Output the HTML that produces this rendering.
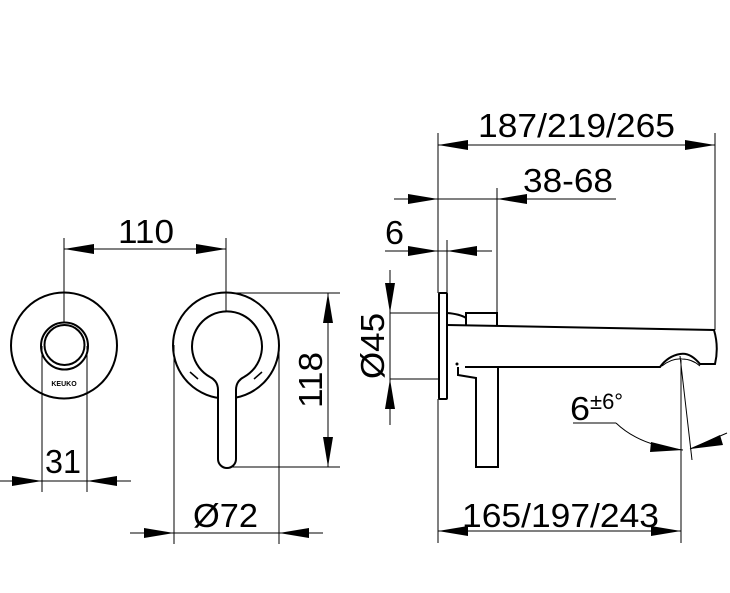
<!DOCTYPE html>
<html><head><style>body{margin:0;background:#fff}svg{display:block}text{font-family:"Liberation Sans",sans-serif;fill:#000}</style></head><body>
<svg width="730" height="593" viewBox="0 0 730 593" xmlns="http://www.w3.org/2000/svg">
<defs></defs>
<g stroke="#000" stroke-width="1" fill="none">
<!-- 110 -->
<line x1="64" y1="238" x2="64" y2="322"/><line x1="226" y1="238" x2="226" y2="313"/>
<line x1="64" y1="249" x2="226" y2="249"/>
<!-- 31 -->
<line x1="42" y1="346" x2="42" y2="492"/><line x1="87" y1="346" x2="87" y2="492"/>
<line x1="0" y1="481" x2="131" y2="481"/>
<!-- 118 -->
<line x1="226" y1="293" x2="340" y2="293"/><line x1="226" y1="467" x2="340" y2="467"/>
<line x1="328" y1="293" x2="328" y2="467"/>
<!-- Ø72 -->
<line x1="174" y1="345" x2="174" y2="544"/><line x1="279" y1="345" x2="279" y2="544"/>
<line x1="130" y1="533" x2="323" y2="533"/>
<!-- right dims -->
<line x1="438" y1="133" x2="438" y2="293"/><line x1="438" y1="399" x2="438" y2="543"/>
<line x1="715" y1="133" x2="715" y2="330"/>
<line x1="438" y1="145" x2="715" y2="145"/>
<line x1="497" y1="188" x2="497" y2="313"/>
<line x1="394" y1="199" x2="616" y2="199"/>
<line x1="447" y1="240" x2="447" y2="293"/>
<line x1="385" y1="251" x2="492" y2="251"/>
<line x1="390" y1="270" x2="390" y2="425"/>
<line x1="390" y1="313" x2="440" y2="313"/><line x1="390" y1="379" x2="440" y2="379"/>
<line x1="681" y1="360" x2="681" y2="543"/>
<line x1="438" y1="531" x2="681" y2="531"/>
<line x1="680" y1="356" x2="692" y2="460"/>
<line x1="573" y1="423" x2="616" y2="423"/>
<path d="M616,423 Q640,446 683,450"/>
<line x1="690" y1="449" x2="727" y2="433"/>
</g>
<g fill="#000">
<!-- arrows -->
<polygon points="64,249 94,244 94,254"/><polygon points="226,249 196,244 196,254"/>
<polygon points="42,481 12,476 12,486"/><polygon points="87,481 117,476 117,486"/>
<polygon points="328,293 323,323 333,323"/><polygon points="328,467 323,437 333,437"/>
<polygon points="174,533 144,528 144,538"/><polygon points="279,533 309,528 309,538"/>
<polygon points="438,145 468,140 468,150"/><polygon points="715,145 685,140 685,150"/>
<polygon points="438,199 408,194 408,204"/><polygon points="497,199 527,194 527,204"/>
<polygon points="438,251 408,246 408,256"/><polygon points="447,251 477,246 477,256"/>
<polygon points="390,313 385,283 395,283"/><polygon points="390,379 385,409 395,409"/>
<polygon points="438,531 468,526 468,536"/><polygon points="681,531 651,526 651,536"/>
<polygon points="683,450 651,442 650,452"/><polygon points="690,449 720,435 723,445"/>
</g>
<g stroke="#000" stroke-width="2" fill="none">
<circle cx="64" cy="345.5" r="53"/>
<circle cx="64.5" cy="346" r="23.5"/><circle cx="64.5" cy="345" r="20"/>
<circle cx="226" cy="345.5" r="53"/>
<path d="M218,459 L218,390 Q218,381 210,377 A35,35 0 1 1 244,377 Q236,381 236,390 L236,459 A9,9 0 0 1 218,459 Z" fill="#fff"/>
<line x1="190" y1="372" x2="198" y2="379" stroke-width="1.5"/><line x1="262" y1="372" x2="254" y2="379" stroke-width="1.5"/>
<!-- side view -->
<rect x="439" y="293" width="8" height="106" rx="1"/>
<path d="M447,325 L714,330 Q719,347 715,364 L700,364 Q690,352 680,354 Q668,356 660,367 L465,367"/>
<path d="M447,313 Q460,314 466,318 L466,313 L497,313 L497,325 M466,318 L466,325"/>
<path d="M458,367 L458,375 L476,378 L476,467 L498,467 L498,367"/>
<path d="M662,366 Q672,358 682,359 Q692,359 700,366" stroke-width="1"/>
</g>
<circle cx="457" cy="364" r="1.5" fill="#000"/>
<text x="64" y="386" font-size="7" font-weight="bold" text-anchor="middle">KEUKO</text>
<g font-size="33">
<text x="118" y="243" textLength="56" lengthAdjust="spacingAndGlyphs">110</text>
<text x="45" y="473" textLength="36" lengthAdjust="spacingAndGlyphs">31</text>
<text x="193" y="527" textLength="65" lengthAdjust="spacingAndGlyphs">Ø72</text>
<text x="478" y="137" textLength="197" lengthAdjust="spacingAndGlyphs">187/219/265</text>
<text x="523" y="192" textLength="90" lengthAdjust="spacingAndGlyphs">38-68</text>
<text x="385" y="244" textLength="19" lengthAdjust="spacingAndGlyphs">6</text>
<text x="462" y="527" textLength="197" lengthAdjust="spacingAndGlyphs">165/197/243</text>
<text x="570" y="420" textLength="20" lengthAdjust="spacingAndGlyphs">6</text>
<text transform="translate(322,380) rotate(-90)" text-anchor="middle" textLength="56" lengthAdjust="spacingAndGlyphs">118</text>
<text transform="translate(384,346) rotate(-90)" text-anchor="middle" textLength="66" lengthAdjust="spacingAndGlyphs">Ø45</text>
</g>
<text x="590" y="409" font-size="22">±6°</text>
</svg>
</body></html>
